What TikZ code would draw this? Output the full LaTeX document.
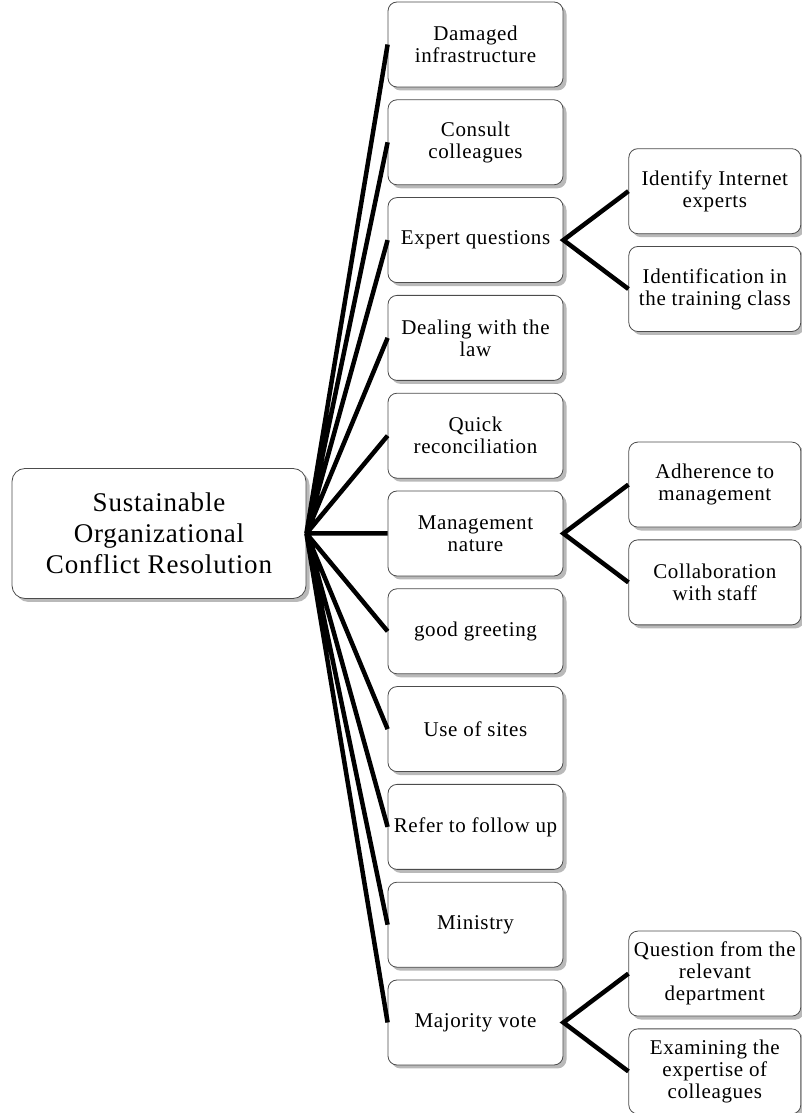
\documentclass[tikz,border=0pt]{standalone}
\usepackage{fontspec}
\setmainfont{Liberation Serif}[LetterSpace=3]
\usetikzlibrary{positioning,shadows}

\begin{document}
\begin{tikzpicture}[
box/.style={draw=black!70,line width=.8pt,rectangle,rounded corners=9pt,fill=white,
    minimum width=175pt,minimum height=85pt,inner sep=2pt,align=center,
    font=\fontsize{21}{22}\selectfont,
    drop shadow={shadow xshift=3.5pt,shadow yshift=-3.5pt,fill=black!55}},
leaf/.style={box,minimum width=172pt},
link/.style={line width=4.5pt}]
\useasboundingbox (0,0) rectangle (802pt,1113pt);
\matrix (mid) at (475.5pt,579.5pt) [row sep=12pt,inner sep=0pt] {
\node (damaged) [box] {Damaged\\infrastructure};
\\
\node (consult) [box] {Consult\\colleagues};
\\
\node (expert) [box] {Expert questions};
\\
\node (law) [box] {Dealing with the\\law};
\\
\node (quick) [box] {Quick\\reconciliation};
\\
\node (manage) [box] {Management\\nature};
\\
\node (greet) [box] {good greeting};
\\
\node (sites) [box] {Use of sites};
\\
\node (refer) [box] {Refer to follow up};
\\
\node (ministry) [box] {Ministry};
\\
\node (vote) [box] {Majority vote};
\\
};
\node (root) [box,minimum width=294pt,minimum height=130pt,rounded corners=13pt,
    font=\fontsize{27}{31}\selectfont,left=81pt of mid] {Sustainable\\Organizational\\Conflict Resolution};

% second level
\node (internet) [leaf,above right=6pt and 65pt of expert.east] {Identify Internet\\experts};
\node (training) [leaf,below right=6pt and 65pt of expert.east] {Identification in\\the training class};
\node (adhere) [leaf,above right=6pt and 65pt of manage.east] {Adherence to\\management};
\node (collab) [leaf,below right=6pt and 65pt of manage.east] {Collaboration\\with staff};
\node (dept) [leaf,above right=6pt and 65pt of vote.east] {Question from the\\relevant\\department};
\node (examine) [leaf,below right=6pt and 65pt of vote.east] {Examining the\\expertise of\\colleagues};

\draw[link] (root.east) -- (damaged.west)
    (root.east) -- (consult.west)
    (root.east) -- (expert.west)
    (root.east) -- (law.west)
    (root.east) -- (quick.west)
    (root.east) -- (manage.west)
    (root.east) -- (greet.west)
    (root.east) -- (sites.west)
    (root.east) -- (refer.west)
    (root.east) -- (ministry.west)
    (root.east) -- (vote.west);
\draw[link] (internet.west) -- (expert.east) -- (training.west);
\draw[link] (adhere.west) -- (manage.east) -- (collab.west);
\draw[link] (dept.west) -- (vote.east) -- (examine.west);
\end{tikzpicture}
\end{document}
